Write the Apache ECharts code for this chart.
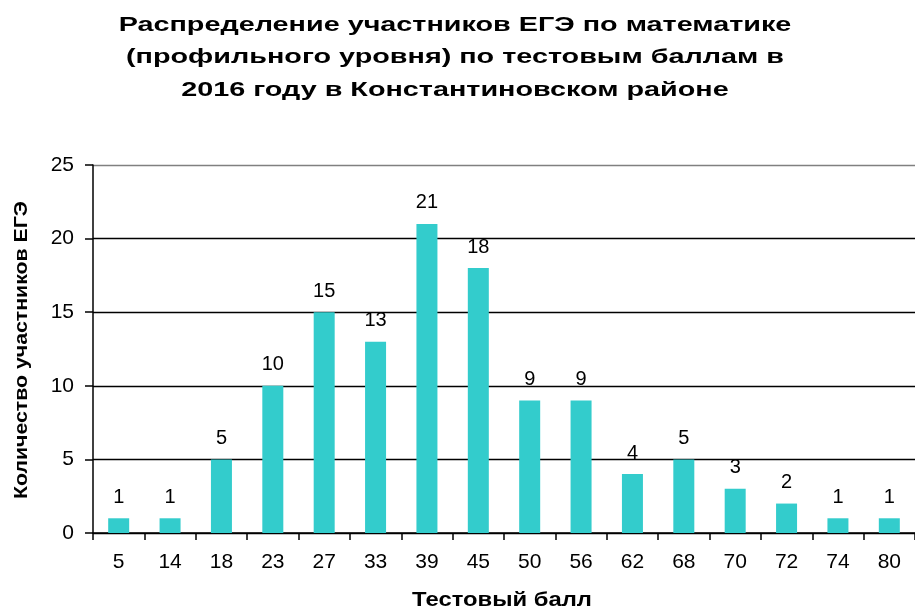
<!DOCTYPE html>
<html>
<head>
<meta charset="utf-8">
<script src="https://cdn.jsdelivr.net/npm/echarts@6/dist/echarts.min.js"></script>
<style>
  html, body { margin: 0; padding: 0; background: #fff; }
  #chart { width: 915px; height: 610px; }
</style>
</head>
<body>
<div id="chart"></div>
<script>
// тестовые баллы и количество участников
const scores = ['5', '14', '18', '23', '27', '33', '39', '45', '50', '56', '62', '68', '70', '72', '74', '80'];
const counts = [1, 1, 5, 10, 15, 13, 21, 18, 9, 9, 4, 5, 3, 2, 1, 1];

const titleLines = [
  'Распределение участников ЕГЭ по математике',
  '(профильного уровня) по тестовым баллам в',
  '2016 году в Константиновском районе'
];
const xName = 'Тестовый балл';
const yName = 'Количество участников ЕГЭ';

const FONT = 'Liberation Sans, Arial, sans-serif';

const chart = echarts.init(document.getElementById('chart'));

// текст в оригинале заметно растянут по ширине, поэтому подписи — graphic с scaleX
const titleGraphics = titleLines.map((line, i) => ({
  type: 'text',
  x: 455,
  y: 25 + i * 32.5,
  scaleX: 1.37,
  style: {
    text: line,
    font: 'bold 21px ' + FONT,
    fill: '#000',
    textAlign: 'center',
    textVerticalAlign: 'middle'
  }
}));

const option = {
  backgroundColor: '#fff',
  textStyle: { fontFamily: FONT, color: '#000' },
  graphic: titleGraphics.concat([
    {
      type: 'text',
      x: 502,
      y: 600,
      scaleX: 1.19,
      style: {
        text: xName,
        font: 'bold 20px ' + FONT,
        fill: '#000',
        textAlign: 'center',
        textVerticalAlign: 'middle'
      }
    },
    {
      type: 'text',
      x: 22,
      y: 350,
      rotation: Math.PI / 2,
      scaleX: 1.12,
      style: {
        text: yName,
        font: 'bold 19px ' + FONT,
        fill: '#000',
        textAlign: 'center',
        textVerticalAlign: 'middle'
      }
    }
  ]),
  grid: { left: 93, right: -3, top: 165, bottom: 77 },
  xAxis: {
    type: 'category',
    data: scores,
    axisLine: { lineStyle: { color: '#000', width: 1.5 } },
    axisTick: { show: true, length: 7, lineStyle: { color: '#000', width: 1.5 } },
    axisLabel: { fontSize: 21, color: '#000', margin: 19 },
    splitLine: { show: false }
  },
  yAxis: {
    type: 'value',
    min: 0,
    max: 25,
    interval: 5,
    axisLine: { show: true, lineStyle: { color: '#000', width: 1.5 } },
    axisTick: { show: true, length: 8, lineStyle: { color: '#000', width: 1.5 } },
    axisLabel: { fontSize: 21, color: '#000', margin: 19 },
    splitLine: {
      show: true,
      lineStyle: { color: ['#000', '#000', '#000', '#000', '#000', '#808080'], width: 1.3 }
    }
  },
  series: [
    {
      type: 'bar',
      data: counts,
      barWidth: 21,
      itemStyle: { color: '#33CCCC' },
      label: {
        show: true,
        position: 'top',
        distance: 11,
        fontSize: 20,
        color: '#000'
      }
    }
  ]
};

chart.setOption(option);
</script>
</body>
</html>
